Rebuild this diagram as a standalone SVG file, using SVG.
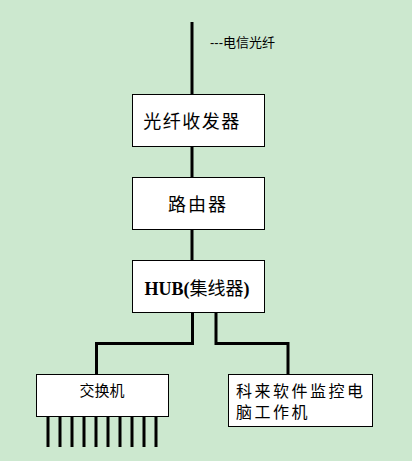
<svg xmlns="http://www.w3.org/2000/svg" width="412" height="461" viewBox="0 0 412 461">
<style>
.box{fill:#fff;stroke:#000;stroke-width:1}
.ln{fill:none;stroke:#000;stroke-width:3}
.t{font-family:"Liberation Sans","Noto Sans CJK SC",sans-serif;fill:#000}
</style>
<rect width="412" height="461" fill="#cce8cf"/>
<g id="connectors">
<path class="ln" d="M192 22V94"/>
<path class="ln" d="M192 146V177"/>
<path class="ln" d="M192 229V261"/>
<path class="ln" d="M192.5 312V343.5H96.5V374"/>
<path class="ln" d="M216 312V343.5H288V374.5"/>
<path class="ln" d="M48 416V447M60 416V447M72 416V447M84 416V447M96 416V447M108 416V447M120 416V447M132 416V447M144 416V447M156 416V447"/>
</g>
<g id="fiber-label"><text class="t" x="210" y="47" font-size="13">---电信光纤</text></g>
<g id="transceiver">
<rect class="box" x="132.5" y="94.5" width="132" height="52"/>
<text class="t" x="192" y="128" font-size="18" text-anchor="middle" letter-spacing="1.5">光纤收发器</text>
</g>
<g id="router">
<rect class="box" x="132.5" y="177.5" width="132" height="52"/>
<text class="t" x="198" y="211" font-size="18" text-anchor="middle" letter-spacing="2">路由器</text>
</g>
<g id="hub">
<rect class="box" x="132.5" y="260.5" width="132" height="52"/>
<text x="197" y="294.5" font-size="18" text-anchor="middle" font-family="'Liberation Serif','Noto Sans CJK SC',serif" font-weight="bold">HUB(<tspan font-weight="normal" font-family="'Noto Sans CJK SC',sans-serif">集线器</tspan>)</text>
</g>
<g id="switch">
<rect class="box" x="36.5" y="374.5" width="132" height="42"/>
<text class="t" x="102" y="396" font-size="15" text-anchor="middle">交换机</text>
</g>
<g id="workstation">
<rect class="box" x="228.5" y="374.5" width="144" height="52"/>
<text class="t" x="236" y="397" font-size="16" letter-spacing="2.5">科来软件监控电</text>
<text class="t" x="236" y="418" font-size="16" letter-spacing="2.5">脑工作机</text>
</g>
</svg>
